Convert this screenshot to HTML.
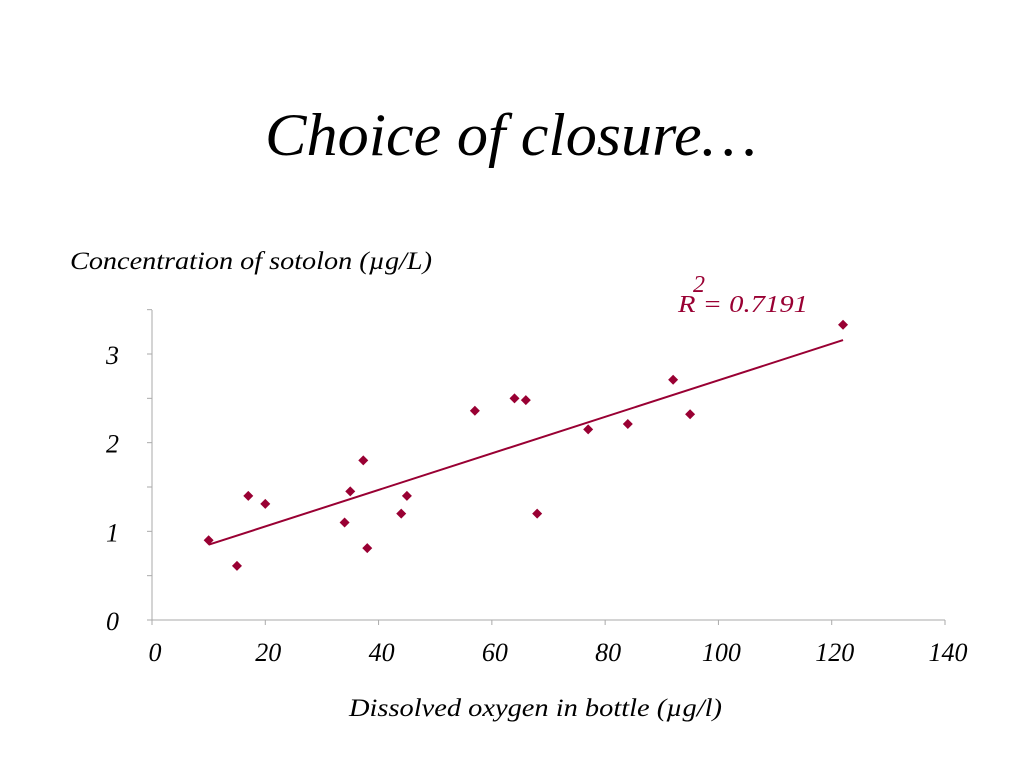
<!DOCTYPE html>
<html><head><meta charset="utf-8"><style>
body{margin:0;background:#fff;width:1024px;height:768px;overflow:hidden}
svg{display:block}
text{font-family:"Liberation Serif",serif;font-style:italic}
</style></head><body>
<svg width="1024" height="768">
<text x="265" y="155" textLength="492" lengthAdjust="spacingAndGlyphs" font-size="60" fill="#000">Choice of closure…</text>
<text x="70" y="269" textLength="362" lengthAdjust="spacingAndGlyphs" font-size="25" fill="#000">Concentration of sotolon (µg/L)</text>
<text x="349" y="716" textLength="373" lengthAdjust="spacingAndGlyphs" font-size="25" fill="#000">Dissolved oxygen in bottle (µg/l)</text>
<text x="693" y="292" font-size="24" fill="#990033">2</text>
<text x="678" y="312" textLength="130" lengthAdjust="spacingAndGlyphs" font-size="24" fill="#990033">R  = 0.7191</text>
<g id="chart"></g>
</svg>
<script>
const xTicks=[0,20,40,60,80,100,120,140];
const yTicks=[0,1,2,3];
const oxygen=[10,15,17,20,34,35,37.3,38,44,45,57,64,66,68,77,84,92,95,122];
const sotolon=[0.9,0.61,1.4,1.31,1.1,1.45,1.8,0.81,1.2,1.4,2.36,2.5,2.48,1.2,2.15,2.21,2.71,2.32,3.33];
const X=v=>152+v*(945-152)/140;
const Y=v=>620-v*(620-354)/3;
const NS="http://www.w3.org/2000/svg";
const g=document.getElementById('chart');
function mk(t,a){const e=document.createElementNS(NS,t);for(const k in a)e.setAttribute(k,a[k]);g.appendChild(e);return e;}
let e;
e=mk('line',{x1:152,y1:310,x2:152,y2:620,stroke:'#aaa','stroke-width':1});


e=mk('line',{x1:152,y1:620,x2:945,y2:620,stroke:'#aaa','stroke-width':1});


for(let v=0;v<=3.5;v+=0.5){
 e=mk('line',{x1:147,y1:Y(v),x2:152,y2:Y(v),stroke:'#aaa'});
 
 
}
yTicks.forEach(v=>{
 e=mk('text',{x:119,y:Y(v)+10,'font-size':26,'text-anchor':'end'});e.textContent=v;
 
 
});
xTicks.forEach(v=>{
 e=mk('line',{x1:X(v),y1:620,x2:X(v),y2:625,stroke:'#aaa'});
 
 
 e=mk('text',{x:X(v)+3,y:661,'font-size':26,'text-anchor':'middle'});e.textContent=v;
 
 
});
const n=oxygen.length;let sx=0,sy=0,sxx=0,sxy=0;
for(let i=0;i<n;i++){sx+=oxygen[i];sy+=sotolon[i];sxx+=oxygen[i]*oxygen[i];sxy+=oxygen[i]*sotolon[i];}
const b=(n*sxy-sx*sy)/(n*sxx-sx*sx),a=(sy-b*sx)/n;
const xmin=Math.min(...oxygen),xmax=Math.max(...oxygen);
e=mk('line',{x1:X(xmin),y1:Y(a+b*xmin),x2:X(xmax),y2:Y(a+b*xmax),stroke:'#990033','stroke-width':2});


oxygen.forEach((v,i)=>{
 const cx=X(v),cy=Y(sotolon[i]);
 e=mk('polygon',{points:`${cx},${cy-5} ${cx+5},${cy} ${cx},${cy+5} ${cx-5},${cy}`,fill:'#990033'});
 
 
});
</script>
</body></html>
